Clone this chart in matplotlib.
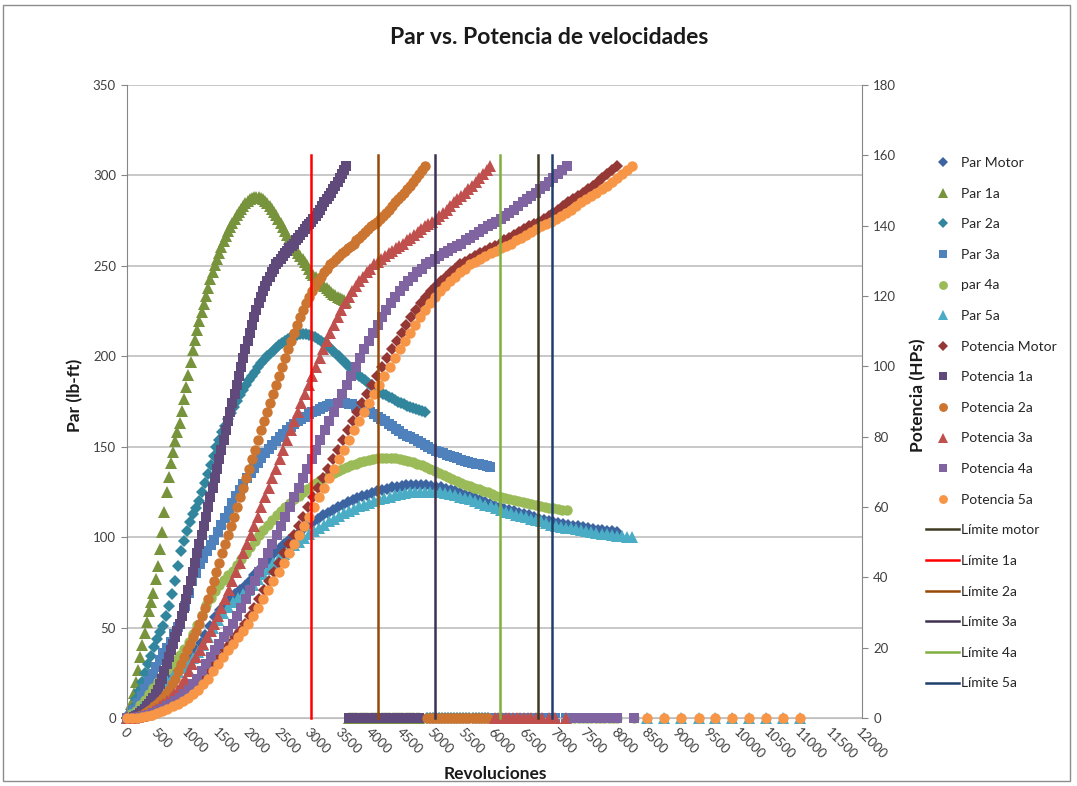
import matplotlib.pyplot as plt
from matplotlib.patches import Rectangle
from matplotlib.ticker import MultipleLocator

plt.rcParams['font.family'] = ['Lato', 'DejaVu Sans']

# Motor: rpm, par (lb-ft)
rpm_motor = [0, 80, 160, 240, 320, 400, 480, 560, 640, 720, 800, 880, 960, 1040, 1120, 1200, 1280, 1360,
             1440, 1520, 1600, 1680, 1760, 1840, 1920, 2000, 2080, 2160, 2240, 2320, 2400, 2480, 2560, 2640,
             2720, 2800, 2880, 2960, 3040, 3120, 3200, 3280, 3360, 3440, 3520, 3600, 3680, 3760, 3840, 3920,
             4000, 4080, 4160, 4240, 4320, 4400, 4480, 4560, 4640, 4720, 4800, 4880, 4960, 5040, 5120, 5200,
             5280, 5360, 5440, 5520, 5600, 5680, 5760, 5840, 5920, 6000, 6080, 6160, 6240, 6320, 6400, 6480,
             6560, 6640, 6720, 6800, 6880, 6960, 7040, 7120, 7200, 7280, 7360, 7440, 7520, 7600, 7680, 7760,
             7840, 7920, 8000]
par_motor = [0, 1.7, 3.5, 6.2, 9, 12, 15, 18, 21, 23.8, 26.5, 28.7, 31, 34.2, 37.5, 41.7, 46, 51, 56, 59.5,
             63, 65.8, 68.5, 70.8, 73, 76, 79, 82, 85, 88, 91, 93.5, 96, 98.3, 100.5, 102.5, 104.5, 106.5,
             108.5, 110.3, 112, 113.5, 115, 116.5, 118, 119.3, 120.5, 121.5, 122.5, 123.5, 124.5, 125.3, 126,
             126.8, 127.5, 128, 128.5, 128.8, 129, 129, 129, 128.8, 128.5, 128, 127.5, 126.8, 126, 125.3, 124.5,
             123.5, 122.5, 121.5, 120.5, 119.5, 118.5, 117.5, 116.5, 115.7, 115, 114.2, 113.5, 112.7, 112,
             111.1, 110.2, 109.6, 109, 108.4, 107.9, 107.4, 106.9, 106.4, 105.9, 105.4, 105, 104.6, 104.2,
             103.9, 103.6, 103.3, 103]

# Potencia (HP) por fila de la tabla, es la misma para el motor y cada marcha
potencia = [0, 0.05, 0.1, 0.3, 0.5, 0.9, 1.4, 2.0, 2.6, 3.3, 4.0, 4.8, 5.7, 6.8, 8.0, 9.6, 11.2, 13.3, 15.4,
            17.3, 19.2, 21.1, 23.0, 24.8, 26.7, 29.0, 31.3, 33.8, 36.3, 39.0, 41.6, 44.2, 46.8, 49.4, 52.0,
            54.6, 57.3, 60.0, 62.8, 65.5, 68.2, 70.9, 73.6, 76.3, 79.1, 81.8, 84.4, 87.0, 89.6, 92.2, 94.8,
            97.3, 99.8, 102.4, 104.9, 107.2, 109.6, 111.8, 114.0, 116.0, 117.9, 119.6, 121.4, 122.8, 124.3,
            125.5, 126.7, 127.8, 129.0, 129.8, 130.6, 131.4, 132.2, 132.9, 133.6, 134.2, 134.9, 135.8, 136.6,
            137.4, 138.3, 139.1, 139.9, 140.5, 141.0, 141.9, 142.8, 143.7, 144.6, 145.6, 146.6, 147.5, 148.4,
            149.3, 150.3, 151.4, 152.4, 153.6, 154.7, 155.8, 156.9]

rpm_1a = [0, 36, 72, 107, 143, 179, 215, 251, 286, 322, 358, 394, 430, 465, 501, 537, 573, 609, 644, 680,
          716, 752, 788, 823, 859, 895, 931, 967, 1002, 1038, 1074, 1110, 1146, 1181, 1217, 1253, 1289, 1325,
          1360, 1396, 1432, 1468, 1504, 1539, 1575, 1611, 1647, 1683, 1718, 1754, 1790, 1826, 1862, 1897,
          1933, 1969, 2005, 2041, 2076, 2112, 2148, 2184, 2220, 2255, 2291, 2327, 2363, 2399, 2434, 2470,
          2506, 2542, 2578, 2613, 2649, 2685, 2721, 2757, 2792, 2828, 2864, 2900, 2936, 2971, 3007, 3043,
          3079, 3115, 3150, 3186, 3222, 3258, 3294, 3329, 3365, 3401, 3437, 3473, 3508, 3544, 3580]
par_1a = [0, 3.9, 7.8, 14.0, 20.1, 26.8, 33.5, 40.2, 46.9, 53.1, 59.2, 64.3, 69.3, 76.6, 83.8, 93.3, 102.8,
          114.0, 125.1, 133.0, 140.8, 147.0, 153.1, 158.1, 163.1, 169.8, 176.5, 183.2, 189.9, 196.6, 203.3,
          208.9, 214.5, 219.6, 224.6, 229.1, 233.5, 238.0, 242.5, 246.4, 250.3, 253.7, 257.0, 260.4, 263.7,
          266.5, 269.3, 271.5, 273.7, 276.0, 278.2, 279.9, 281.6, 283.3, 284.9, 286.0, 287.1, 287.7, 288.3,
          288.3, 288.3, 287.7, 287.1, 286.0, 284.9, 283.3, 281.6, 279.9, 278.2, 276.0, 273.7, 271.5, 269.3,
          267.1, 264.8, 262.6, 260.3, 258.7, 257.0, 255.3, 253.6, 252.0, 250.3, 248.3, 246.3, 245.0, 243.6,
          242.4, 241.1, 240.0, 238.9, 237.8, 236.6, 235.6, 234.6, 233.7, 232.8, 232.2, 231.5, 230.9, 230.2]

rpm_2a = [0, 49, 97, 146, 195, 243, 292, 340, 389, 438, 486, 535, 584, 632, 681, 730, 778, 827, 876, 924,
          973, 1021, 1070, 1119, 1167, 1216, 1265, 1313, 1362, 1411, 1459, 1508, 1556, 1605, 1654, 1702,
          1751, 1800, 1848, 1897, 1946, 1994, 2043, 2091, 2140, 2189, 2237, 2286, 2335, 2383, 2432, 2481,
          2529, 2578, 2627, 2675, 2724, 2772, 2821, 2870, 2918, 2967, 3016, 3064, 3113, 3162, 3210, 3259,
          3308, 3356, 3405, 3453, 3502, 3551, 3599, 3648, 3697, 3745, 3794, 3843, 3891, 3940, 3988, 4037,
          4086, 4134, 4183, 4232, 4280, 4329, 4378, 4426, 4475, 4524, 4572, 4621, 4669, 4718, 4767, 4815, 4864]
par_2a = [0, 2.9, 5.8, 10.3, 14.8, 19.8, 24.7, 29.6, 34.5, 39.1, 43.6, 47.3, 51.0, 56.4, 61.7, 68.7, 75.7,
          83.9, 92.1, 97.9, 103.6, 108.2, 112.7, 116.4, 120.1, 125.0, 129.9, 134.9, 139.8, 144.8, 149.7,
          153.8, 157.9, 161.6, 165.3, 168.6, 171.9, 175.2, 178.4, 181.3, 184.2, 186.7, 189.1, 191.6, 194.1,
          196.2, 198.2, 199.9, 201.5, 203.2, 204.8, 206.0, 207.2, 208.5, 209.7, 210.5, 211.3, 211.8, 212.2,
          212.2, 212.2, 211.8, 211.3, 210.5, 209.7, 208.5, 207.2, 206.0, 204.8, 203.2, 201.5, 199.9, 198.2,
          196.6, 194.9, 193.3, 191.6, 190.4, 189.1, 187.9, 186.7, 185.5, 184.2, 182.7, 181.2, 180.3, 179.3,
          178.4, 177.5, 176.7, 175.8, 175.0, 174.2, 173.5, 172.7, 172.1, 171.4, 170.9, 170.4, 169.9, 169.4]

rpm_3a = [0, 59, 119, 178, 237, 296, 356, 415, 474, 534, 593, 652, 711, 771, 830, 889, 948, 1008, 1067,
          1126, 1186, 1245, 1304, 1363, 1423, 1482, 1541, 1601, 1660, 1719, 1778, 1838, 1897, 1956, 2016,
          2075, 2134, 2193, 2253, 2312, 2371, 2430, 2490, 2549, 2608, 2668, 2727, 2786, 2845, 2905, 2964,
          3023, 3083, 3142, 3201, 3260, 3320, 3379, 3438, 3498, 3557, 3616, 3675, 3735, 3794, 3853, 3912,
          3972, 4031, 4090, 4150, 4209, 4268, 4327, 4387, 4446, 4505, 4565, 4624, 4683, 4742, 4802, 4861,
          4920, 4980, 5039, 5098, 5157, 5217, 5276, 5335, 5394, 5454, 5513, 5572, 5632, 5691, 5750, 5809,
          5869, 5928]
par_3a = [0, 2.4, 4.7, 8.4, 12.1, 16.2, 20.2, 24.3, 28.3, 32.1, 35.8, 38.8, 41.8, 46.2, 50.6, 56.4, 62.1,
          68.9, 75.6, 80.3, 85.0, 88.7, 92.4, 95.5, 98.5, 102.6, 106.6, 110.7, 114.7, 118.8, 122.8, 126.2,
          129.6, 132.6, 135.6, 138.3, 141.0, 143.7, 146.4, 148.8, 151.1, 153.2, 155.2, 157.2, 159.2, 160.9,
          162.6, 164.0, 165.3, 166.7, 168.0, 169.0, 170.0, 171.1, 172.1, 172.8, 173.4, 173.8, 174.1, 174.1,
          174.1, 173.8, 173.4, 172.8, 172.1, 171.1, 170.0, 169.0, 168.0, 166.7, 165.3, 164.0, 162.6, 161.3,
          159.9, 158.6, 157.2, 156.2, 155.2, 154.2, 153.2, 152.2, 151.1, 149.9, 148.7, 147.9, 147.1, 146.4,
          145.6, 145.0, 144.3, 143.6, 142.9, 142.3, 141.7, 141.2, 140.6, 140.2, 139.8, 139.4, 139.0]

rpm_4a = [0, 72, 144, 215, 287, 359, 431, 502, 574, 646, 718, 789, 861, 933, 1005, 1076, 1148, 1220, 1292,
          1363, 1435, 1507, 1579, 1650, 1722, 1794, 1866, 1938, 2009, 2081, 2153, 2225, 2296, 2368, 2440,
          2512, 2583, 2655, 2727, 2799, 2870, 2942, 3014, 3086, 3157, 3229, 3301, 3373, 3444, 3516, 3588,
          3660, 3732, 3803, 3875, 3947, 4019, 4090, 4162, 4234, 4306, 4377, 4449, 4521, 4593, 4664, 4736,
          4808, 4880, 4951, 5023, 5095, 5167, 5238, 5310, 5382, 5454, 5526, 5597, 5669, 5741, 5813, 5884,
          5956, 6028, 6100, 6171, 6243, 6315, 6387, 6458, 6530, 6602, 6674, 6745, 6817, 6889, 6961, 7032,
          7104, 7176]
par_4a = [0, 2.0, 3.9, 7.0, 10.0, 13.4, 16.7, 20.1, 23.4, 26.5, 29.5, 32.1, 34.6, 38.2, 41.8, 46.6, 51.3,
          56.9, 62.4, 66.3, 70.2, 73.3, 76.4, 78.9, 81.4, 84.8, 88.1, 91.5, 94.8, 98.1, 101.4, 104.2, 107.0,
          109.5, 112.0, 114.3, 116.5, 118.8, 121.0, 123.0, 124.9, 126.6, 128.2, 129.9, 131.5, 132.9, 134.3,
          135.5, 136.6, 137.7, 138.8, 139.7, 140.5, 141.3, 142.1, 142.7, 143.3, 143.6, 143.8, 143.8, 143.8,
          143.6, 143.3, 142.7, 142.1, 141.3, 140.5, 139.7, 138.8, 137.7, 136.6, 135.5, 134.3, 133.2, 132.1,
          131.0, 129.9, 129.1, 128.2, 127.4, 126.5, 125.7, 124.9, 123.9, 122.9, 122.2, 121.5, 120.9, 120.3,
          119.8, 119.2, 118.7, 118.1, 117.6, 117.1, 116.7, 116.2, 115.9, 115.5, 115.2, 114.8]

rpm_5a = [0, 82, 165, 247, 330, 412, 494, 577, 659, 742, 824, 906, 989, 1071, 1154, 1236, 1318, 1401, 1483,
          1566, 1648, 1730, 1813, 1895, 1978, 2060, 2142, 2225, 2307, 2390, 2472, 2554, 2637, 2719, 2802,
          2884, 2966, 3049, 3131, 3214, 3296, 3378, 3461, 3543, 3626, 3708, 3790, 3873, 3955, 4038, 4120,
          4202, 4285, 4367, 4450, 4532, 4614, 4697, 4779, 4862, 4944, 5026, 5109, 5191, 5274, 5356, 5438,
          5521, 5603, 5686, 5768, 5850, 5933, 6015, 6098, 6180, 6262, 6345, 6427, 6510, 6592, 6674, 6757,
          6839, 6922, 7004, 7086, 7169, 7251, 7334, 7416, 7498, 7581, 7663, 7746, 7828, 7910, 7993, 8075,
          8158, 8240]
par_5a = [0, 1.7, 3.4, 6.1, 8.7, 11.7, 14.6, 17.5, 20.4, 23.1, 25.7, 27.9, 30.1, 33.3, 36.4, 40.6, 44.7,
          49.6, 54.4, 57.8, 61.2, 63.9, 66.5, 68.7, 70.9, 73.8, 76.7, 79.6, 82.5, 85.5, 88.4, 90.8, 93.2,
          95.4, 97.6, 99.6, 101.5, 103.4, 105.3, 107.0, 108.7, 110.2, 111.7, 113.2, 114.6, 115.8, 117.0,
          118.0, 118.9, 119.9, 120.9, 121.6, 122.3, 123.1, 123.8, 124.3, 124.8, 125.0, 125.2, 125.2, 125.2,
          125.0, 124.8, 124.3, 123.8, 123.1, 122.3, 121.6, 120.9, 119.9, 118.9, 118.0, 117.0, 116.1, 115.1,
          114.1, 113.1, 112.4, 111.7, 111.0, 110.2, 109.5, 108.7, 107.9, 107.0, 106.4, 105.8, 105.3, 104.8,
          104.3, 103.8, 103.3, 102.8, 102.4, 101.9, 101.6, 101.2, 100.9, 100.6, 100.3, 100.0]

# filas sin datos al final de cada tabla (quedan en cero)
cola_1a = [3620, 3655, 3690, 3725, 3760, 3800, 3835, 3870, 3905, 3940, 3975, 4010, 4050, 4085, 4120, 4155,
           4190, 4225, 4260, 4300, 4335, 4370, 4405, 4440, 4475, 4510, 4550, 4585, 4620, 4655, 4690, 4725, 4760]
cola_2a = [4890, 4940, 4990, 5040, 5090, 5140, 5190, 5240, 5290, 5340, 5390, 5440, 5490, 5540, 5590, 5640,
           5690, 5740, 5790, 5840, 5890]
cola_3a = [6000, 6060, 6120, 6180, 6240, 6300, 6360, 6420, 6480, 6540, 6600, 6680, 6780, 6880, 6990, 7170]
cola_4a = [7300, 7370, 7440, 7510, 7580, 7650, 7720, 7790, 7860, 7930, 8000, 8270]
cola_5a = [8480, 8770, 9050, 9330, 9600, 9880, 10160, 10430, 10710, 10990]

# limites de cambio (rpm) y altura de las lineas (HP)
limites = ["Límite motor", "Límite 1a", "Límite 2a", "Límite 3a", "Límite 4a", "Límite 5a"]
limites_rpm = [6715, 3010, 4100, 5030, 6090, 6945]
limite_hp = 160

fig = plt.figure(figsize=(10.77, 7.86), dpi=100)
ax = fig.add_axes([0.118, 0.0865, 0.6825, 0.8053])
ax2 = ax.twinx()


def serie(eje, x, y, cola, nombre, marca, color, tam):
    xs = x + cola
    ys = y + [0] * len(cola)
    return eje.plot(xs, ys, linestyle='none', marker=marca, color=color, markersize=tam,
                    markeredgewidth=0, clip_on=False, label=nombre)[0]


handles = []
handles.append(serie(ax, rpm_motor, par_motor, [], 'Par Motor', 'D', '#3B64A0', 6))
handles.append(serie(ax, rpm_1a, par_1a, cola_1a, 'Par 1a', '^', '#77933C', 8))
handles.append(serie(ax, rpm_2a, par_2a, cola_2a, 'Par 2a', 'D', '#31859C', 6))
handles.append(serie(ax, rpm_3a, par_3a, cola_3a, 'Par 3a', 's', '#4F81BD', 6.5))
handles.append(serie(ax, rpm_4a, par_4a, cola_4a, 'par 4a', 'o', '#9BBB59', 7.5))
handles.append(serie(ax, rpm_5a, par_5a, cola_5a, 'Par 5a', '^', '#4BACC6', 8))

handles.append(serie(ax2, rpm_motor, potencia, [], 'Potencia Motor', 'D', '#953735', 6))
handles.append(serie(ax2, rpm_1a, potencia, cola_1a, 'Potencia 1a', 's', '#604A7B', 6.5))
handles.append(serie(ax2, rpm_2a, potencia, cola_2a, 'Potencia 2a', 'o', '#CB7530', 7.5))
handles.append(serie(ax2, rpm_3a, potencia, cola_3a, 'Potencia 3a', '^', '#C0504D', 8))
handles.append(serie(ax2, rpm_4a, potencia, cola_4a, 'Potencia 4a', 's', '#8064A2', 6.5))
handles.append(serie(ax2, rpm_5a, potencia, cola_5a, 'Potencia 5a', 'o', '#F79646', 7.5))

colores_lim = ['#3F3B22', '#FF0000', '#984807', '#3F3151', '#7FAF3F', '#1F3F6A']
for nombre, x, c in zip(limites, limites_rpm, colores_lim):
    h = ax2.plot([x, x], [0, limite_hp], color=c, lw=1.8, label=nombre, clip_on=False)[0]
    handles.append(h)

# ejes
ax.set_xlim(0, 12000)
ax.set_ylim(0, 350)
ax2.set_ylim(0, 180)
ax.xaxis.set_major_locator(MultipleLocator(500))
ax.yaxis.set_major_locator(MultipleLocator(50))
ax2.yaxis.set_major_locator(MultipleLocator(20))

ax.yaxis.grid(True, color='#BFBFBF', lw=1.2)
ax.set_axisbelow(True)

for s in ['top', 'right']:
    ax.spines[s].set_visible(False)
ax.spines['left'].set_color('#868686')
ax.spines['bottom'].set_color('#BFBFBF')
for s in ['top', 'left', 'bottom']:
    ax2.spines[s].set_visible(False)
ax2.spines['right'].set_color('#868686')

ax.tick_params(axis='y', length=4, color='#868686', labelsize=9.5, labelcolor='#404040', pad=4)
ax.tick_params(axis='x', length=0, labelsize=9.5, labelcolor='#404040', pad=6)
ax2.tick_params(axis='y', length=4, color='#868686', labelsize=9.5, labelcolor='#404040', pad=4)
for lab in ax.get_xticklabels():
    lab.set_rotation(-45)
    lab.set_ha('left')
    lab.set_va('top')
    lab.set_rotation_mode('anchor')

# textos
fig.text(549 / 1077, 1 - 37 / 786, 'Par vs. Potencia de velocidades', ha='center', va='center',
         fontsize=16.5, fontweight='bold', color='#1A1A1A')
fig.text(75 / 1077, 1 - 395 / 786, 'Par (lb-ft)', rotation=90, ha='center', va='center',
         fontsize=12.5, fontweight='bold', color='#1A1A1A')
fig.text(918 / 1077, 1 - 395 / 786, 'Potencia (HPs)', rotation=90, ha='center', va='center',
         fontsize=12.5, fontweight='bold', color='#1A1A1A')
fig.text(495 / 1077, 1 - 774 / 786, 'Revoluciones', ha='center', va='center',
         fontsize=12.5, fontweight='bold', color='#1A1A1A')

fig.legend(handles, [h.get_label() for h in handles], loc='upper left',
           bbox_to_anchor=(926 / 1077, 1 - 157 / 786), frameon=False, fontsize=10,
           labelspacing=1.34, handlelength=2.4, handletextpad=0.15, borderpad=0,
           borderaxespad=0, numpoints=1, markerscale=0.85, labelcolor='#262626')

# borde del grafico
fig.patches.append(Rectangle((3 / 1077, 1 - 781 / 786), 1067 / 1077, 776 / 786,
                             transform=fig.transFigure, fill=False, edgecolor='#8C8C8C', lw=1))

fig.savefig('out.png', dpi=100)
